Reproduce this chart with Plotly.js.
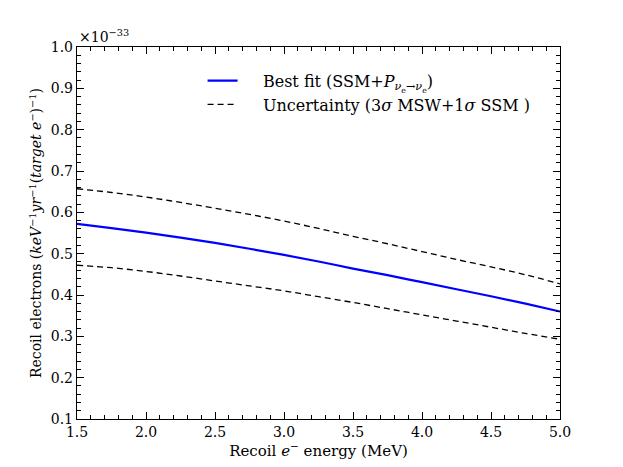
<!DOCTYPE html>
<html>
<head>
<meta charset="utf-8">
<script src="https://cdn.plot.ly/plotly-3.0.1.min.js"></script>
<style>
  body { margin: 0; background: #fff; }
  #chart { width: 623px; height: 467px; }
</style>
</head>
<body>
<div id="chart"></div>
<script>
// recoil electron energy (MeV)
const energy = [1.5, 1.75, 2.0, 2.25, 2.5, 2.75, 3.0, 3.25, 3.5, 3.75, 4.0, 4.25, 4.5, 4.75, 5.0];

// rates in units of 1e-33 keV^-1 yr^-1 (target e^-)^-1
const bestFit = [0.572, 0.562, 0.551, 0.539, 0.526, 0.512, 0.497, 0.481, 0.464, 0.448, 0.431, 0.414, 0.397, 0.379, 0.360];
const upper   = [0.657, 0.648, 0.637, 0.624, 0.610, 0.595, 0.579, 0.561, 0.542, 0.524, 0.505, 0.486, 0.468, 0.449, 0.427];
const lower   = [0.472, 0.466, 0.457, 0.446, 0.434, 0.422, 0.410, 0.396, 0.382, 0.367, 0.352, 0.337, 0.322, 0.307, 0.293];

const xTicks = [1.5, 2.0, 2.5, 3.0, 3.5, 4.0, 4.5, 5.0];
const yTicks = [0.1, 0.2, 0.3, 0.4, 0.5, 0.6, 0.7, 0.8, 0.9, 1.0];

const serif = 'DejaVu Serif';
// nbsp padding pushes legend text away from the short sample line
const pad = '\u00a0\u00a0\u00a0\u00a0';

const traces = [{
  type: 'scatter',
  mode: 'lines',
  x: energy,
  y: bestFit,
  name: pad + 'Best fit (SSM+<i>P</i><sub><i>ν</i><sub>e</sub>→<i>ν</i><sub>e</sub></sub>)',
  line: {color: '#0000ff', width: 2.2, shape: 'spline'},
}, {
  type: 'scatter',
  mode: 'lines',
  x: energy,
  y: upper,
  name: pad + 'Uncertainty (3<i>σ</i> MSW+1<i>σ</i> SSM )',
  line: {color: '#000', width: 1.3, dash: '6px,4px', shape: 'spline'},
}, {
  type: 'scatter',
  mode: 'lines',
  x: energy,
  y: lower,
  showlegend: false,
  line: {color: '#000', width: 1.3, dash: '6px,4px', shape: 'spline'},
}];

const axisCommon = {
  showgrid: false,
  zeroline: false,
  showline: true,
  linecolor: '#000',
  linewidth: 1.2,
  mirror: 'ticks',
  ticks: 'inside',
  ticklen: 7,
  tickwidth: 1,
  tickcolor: '#000',
  tickfont: {family: serif, size: 14, color: '#000'},
};

const layout = {
  width: 623,
  height: 467,
  paper_bgcolor: '#fff',
  plot_bgcolor: '#fff',
  margin: {l: 77, r: 63, t: 47, b: 48},
  font: {family: serif, color: '#000'},
  xaxis: Object.assign({}, axisCommon, {
    range: [1.5, 5.0],
    tickvals: xTicks,
    ticktext: xTicks.map(v => v.toFixed(1)),
    minor: {dtick: 0.1, tick0: 1.5, ticks: 'inside', ticklen: 4, tickcolor: '#000'},
    title: {text: 'Recoil <i>e</i><sup>−</sup> energy (MeV)', font: {family: serif, size: 15}, standoff: 2},
  }),
  yaxis: Object.assign({}, axisCommon, {
    range: [0.1, 1.0],
    tickvals: yTicks,
    ticktext: yTicks.map(v => v.toFixed(1)),
    minor: {dtick: 0.02, tick0: 0.1, ticks: 'inside', ticklen: 4, tickcolor: '#000'},
    title: {
      text: 'Recoil electrons (<i>keV</i><sup>−1</sup><i>yr</i><sup>−1</sup>(<i>target e</i><sup>−</sup>)<sup>−1</sup>)',
      font: {family: serif, size: 14},
      standoff: 5,
    },
  }),
  legend: {
    x: 0.26,
    y: 0.955,
    xanchor: 'left',
    yanchor: 'top',
    bgcolor: 'rgba(0,0,0,0)',
    font: {family: serif, size: 16, color: '#000'},
    itemwidth: 30,
    tracegroupgap: 6,
  },
  annotations: [{
    xref: 'paper',
    yref: 'paper',
    x: 0,
    y: 1,
    xanchor: 'left',
    yanchor: 'bottom',
    showarrow: false,
    text: '×10<sup>−33</sup>',
    font: {family: serif, size: 14, color: '#000'},
  }],
};

Plotly.newPlot('chart', traces, layout, {displayModeBar: false, staticPlot: true});
</script>
</body>
</html>
